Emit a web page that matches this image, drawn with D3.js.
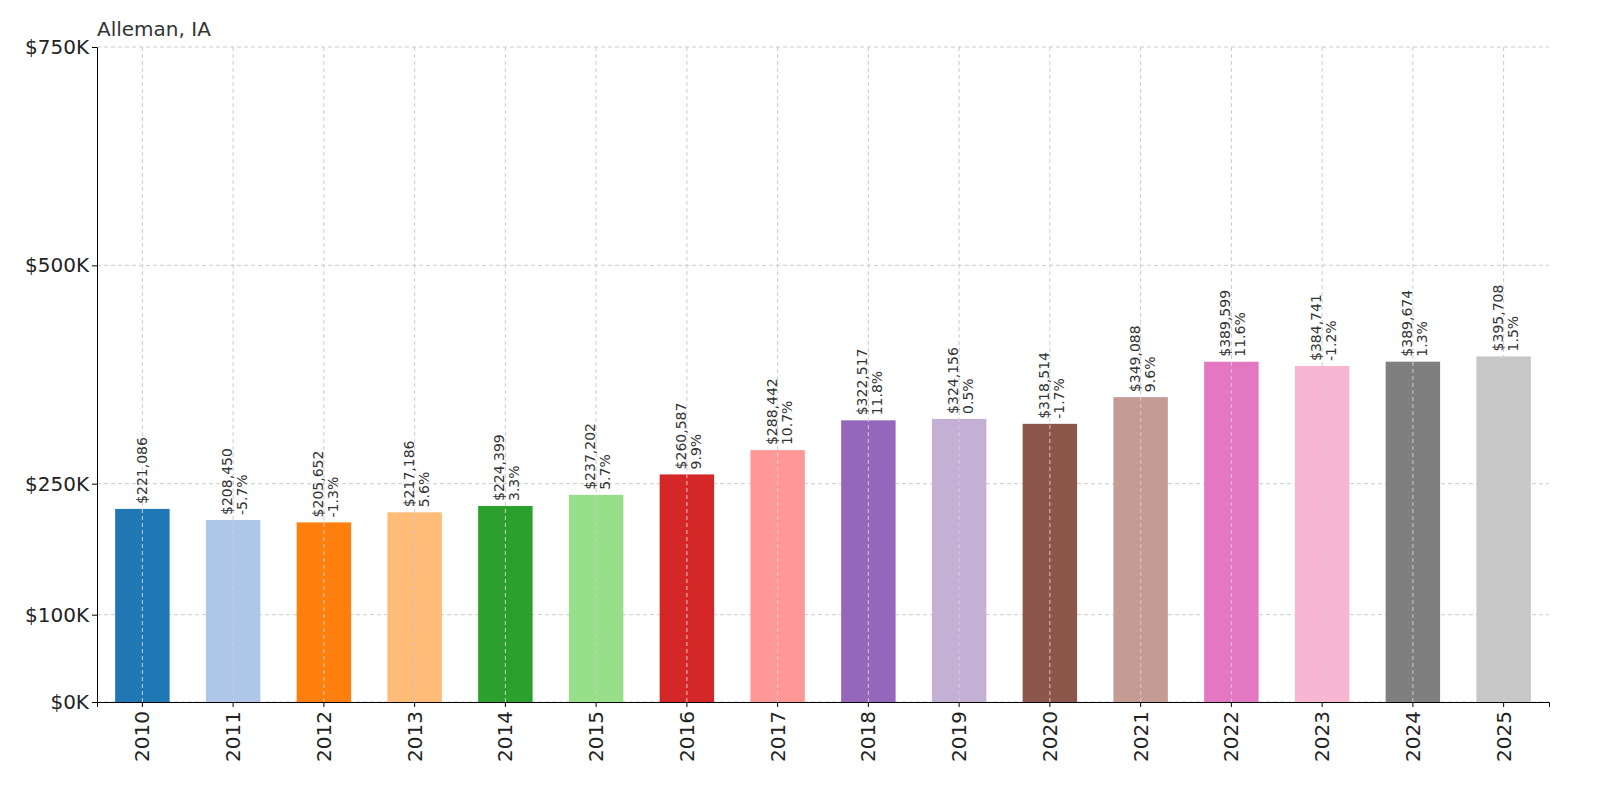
<!DOCTYPE html>
<html><head><meta charset="utf-8">
<script src="https://cdn.jsdelivr.net/npm/d3@7"></script>
<style>body{margin:0;background:#fff;font-family:"DejaVu Sans",sans-serif}</style>
</head><body><svg id="c" width="1600" height="800"></svg>
<script>
const years=["2010","2011","2012","2013","2014","2015","2016","2017","2018","2019","2020","2021","2022","2023","2024","2025"];
const values=[221086,208450,205652,217186,224399,237202,260587,288442,322517,324156,318514,349088,389599,384741,389674,395708];
const changes=[null,"-5.7%","-1.3%","5.6%","3.3%","5.7%","9.9%","10.7%","11.8%","0.5%","-1.7%","9.6%","11.6%","-1.2%","1.3%","1.5%"];
const colors=["#1f77b4","#aec7e8","#ff7f0e","#ffbb78","#2ca02c","#98df8a","#d62728","#ff9896","#9467bd","#c5b0d5","#8c564b","#c49c94","#e377c2","#f7b6d2","#7f7f7f","#c7c7c7"];
const yTicks=[0,100000,250000,500000,750000];
const yLabels=["$0K","$100K","$250K","$500K","$750K"];
const svg=d3.select("#c");
const L=97,R=1549,T=47,B=702;
const x=d3.scaleBand().domain(years).range([L,R]).paddingInner(0.4).paddingOuter(0.2);
const y=d3.scaleLinear().domain([0,750000]).range([B,T]);
const g=svg.append("g");
g.selectAll(".gy").data(yTicks).join("line").attr("x1",L).attr("x2",R).attr("y1",d=>y(d)).attr("y2",d=>y(d)).attr("stroke","#ccc").attr("stroke-dasharray","4,3");
g.selectAll(".bar").data(years).join("rect").attr("x",d=>x(d)).attr("width",x.bandwidth()).attr("y",(d,i)=>y(values[i])).attr("height",(d,i)=>B-y(values[i])).attr("fill",(d,i)=>colors[i]);
g.selectAll(".gx").data(years).join("line").attr("x1",d=>x(d)+x.bandwidth()/2).attr("x2",d=>x(d)+x.bandwidth()/2).attr("y1",T).attr("y2",B).attr("stroke","#ccc").attr("stroke-dasharray","4,3");
years.forEach((yr,i)=>{
  const cx=x(yr)+x.bandwidth()/2, ty=y(values[i])-5;
  const t=g.append("text").attr("transform",`translate(${cx},${ty}) rotate(-90)`).attr("font-size",14).attr("fill","#333");
  if(changes[i]===null){t.append("tspan").attr("x",0).attr("y",5).text("$"+d3.format(",")(values[i]));}
  else{t.append("tspan").attr("x",0).attr("y",-1).text("$"+d3.format(",")(values[i]));
       t.append("tspan").attr("x",0).attr("y",14).text(changes[i]);}
});
const ya=svg.append("g").attr("transform",`translate(${L},0)`).call(d3.axisLeft(y).tickValues(yTicks).tickFormat((d,i)=>yLabels[i]).tickSize(5));
ya.selectAll("text").attr("font-size",20).attr("fill","#222").attr("font-family","DejaVu Sans");
ya.select(".domain").attr("stroke","#000");
const xa=svg.append("g").attr("transform",`translate(0,${B})`).call(d3.axisBottom(x).tickSize(5));
xa.selectAll("text").attr("font-size",20).attr("fill","#222").attr("font-family","DejaVu Sans").attr("transform","rotate(-90)").attr("text-anchor","end").attr("x",-9).attr("y",0).attr("dy","0.35em");
xa.select(".domain").attr("stroke","#000");
svg.append("text").attr("x",L).attr("y",36).attr("font-size",20).attr("fill","#333").text("Alleman, IA");
</script></body></html>
